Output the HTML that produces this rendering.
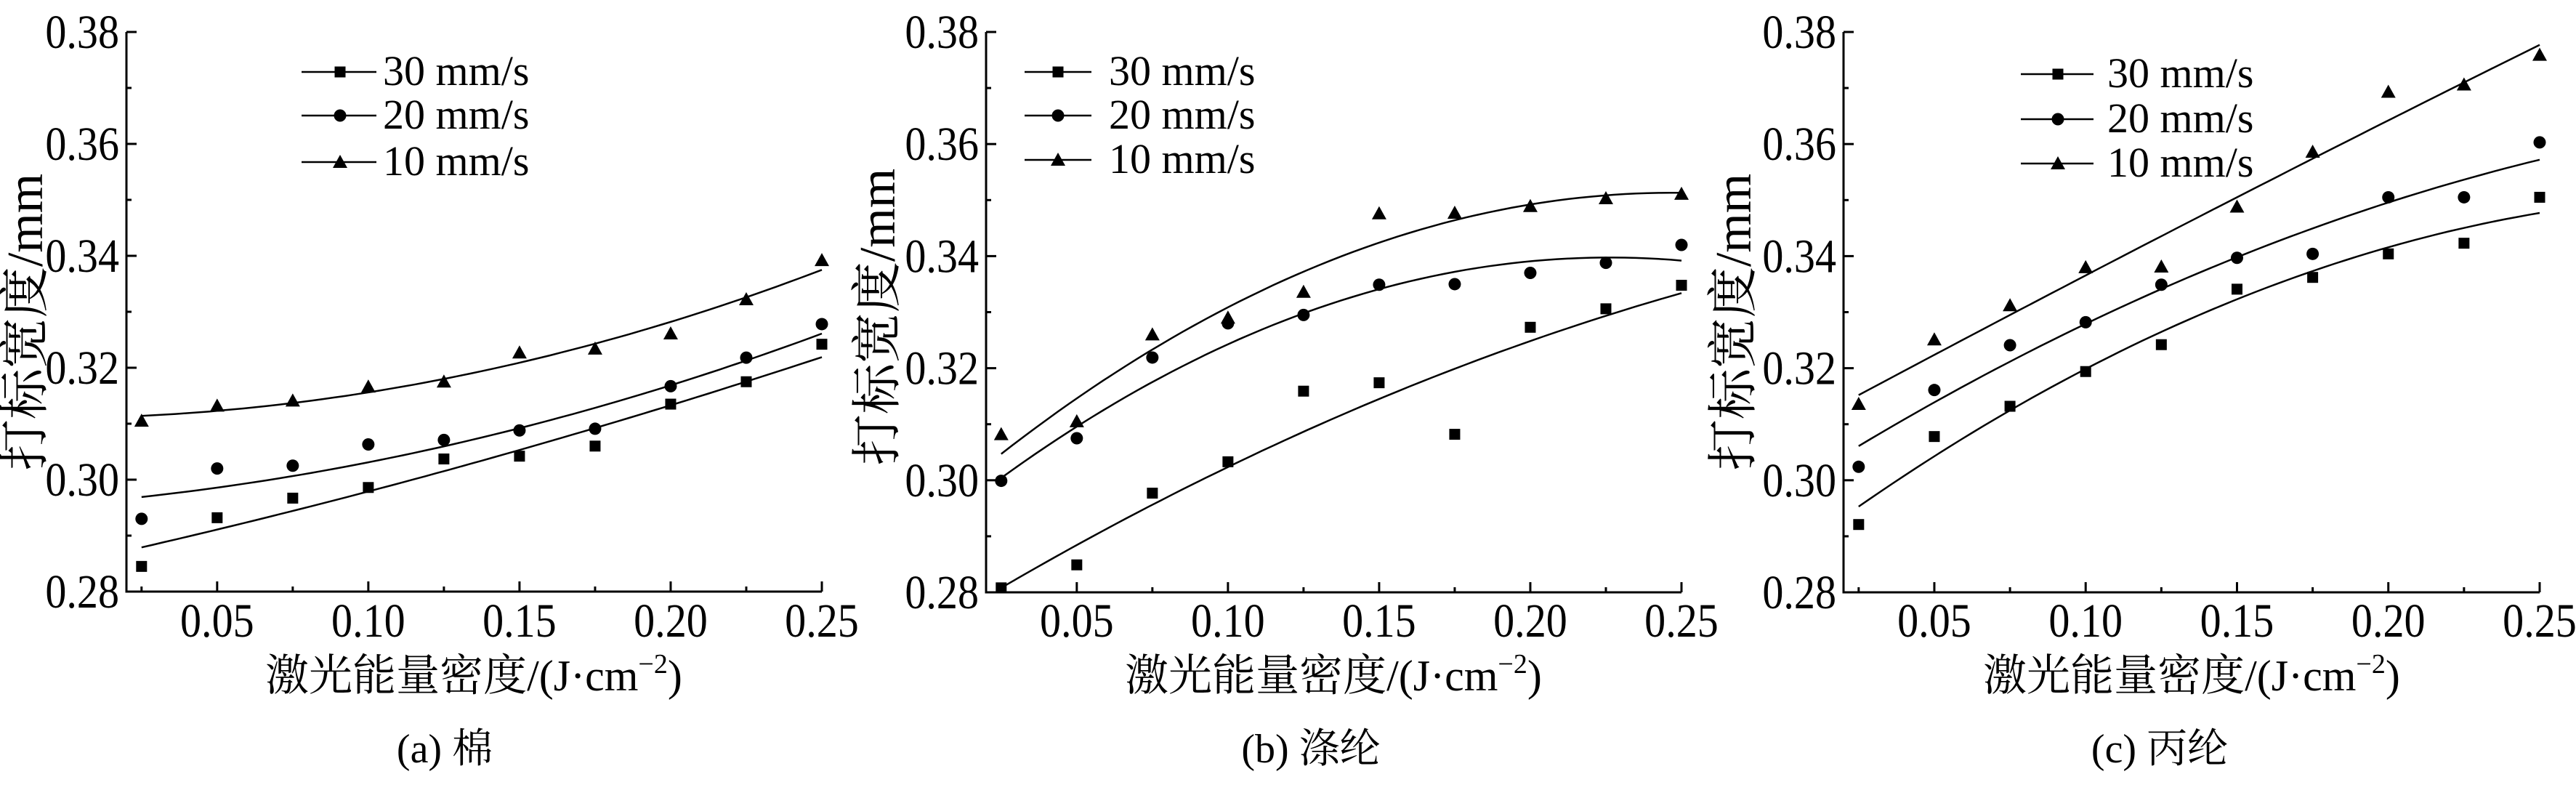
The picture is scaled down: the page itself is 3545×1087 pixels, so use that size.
<!DOCTYPE html>
<html><head><meta charset="utf-8"><style>
html,body{margin:0;padding:0;background:#fff;}
svg{display:block;}
text{font-family:"Liberation Serif","Noto Serif CJK SC","Noto Sans CJK SC",serif;fill:#000;}
</style></head><body>
<svg id="s" width="3545" height="1087" xmlns="http://www.w3.org/2000/svg"></svg>
<script>
const S=document.getElementById('s');let h='';
const X=[.025,.05,.075,.1,.125,.15,.175,.2,.225,.25];
function quad(p){const [a,b,c]=p;return x=>{const l0=(x-b[0])*(x-c[0])/((a[0]-b[0])*(a[0]-c[0])),l1=(x-a[0])*(x-c[0])/((b[0]-a[0])*(b[0]-c[0])),l2=(x-a[0])*(x-b[0])/((c[0]-a[0])*(c[0]-b[0]));return a[1]*l0+b[1]*l1+c[1]*l2;};}
function mk(t,x,y){if(t==0)return `<rect x="${x-7.5}" y="${y-7.5}" width="15" height="15"/>`;if(t==1)return `<circle cx="${x}" cy="${y}" r="8.5"/>`;return `<polygon points="${x},${y-10} ${x-10},${y+8} ${x+10},${y+8}"/>`;}
const P=[
{L:174,R:1131,T:44,B:814,leg:[415,468,518,527,[99,159,223]],yl:[31,443],xt:652,cap:612,c:'(a) 棉',
 d:[[.2845,.2932,.2967,.2986,.3037,.3042,.3060,.3135,.3175,.3242],[.2930,.3020,.3025,.3063,.3071,.3088,.3091,.3167,.3218,.3278],[.3105,.3132,.3141,.3166,.3175,.3227,.3234,.3261,.3322,.3392]],
 f:[[[.025,.2879],[.15,.3053],[.25,.3219]],[[.025,.2969],[.15,.3092],[.25,.3261]],[[.025,.3114],[.15,.3209],[.25,.3375]]]},
{L:1357,R:2314,T:44,B:815,leg:[1410,1456,1502,1526,[99,159,220]],yl:[1204,436],xt:1835,cap:1804,c:'(b) 涤纶',
 d:[[.2808,.2849,.2977,.3033,.3159,.3174,.3082,.3273,.3306,.3348],[.2999,.3075,.3219,.3280,.3295,.3349,.3350,.3370,.3388,.3420],[.3082,.3105,.3260,.3290,.3336,.3476,.3477,.3489,.3503,.3511]],
 f:[[[.025,.2808],[.15,.3145],[.25,.3334]],[[.025,.3004],[.15,.3341],[.25,.3392]],[[.025,.3047],[.15,.3424],[.25,.3513]]]},
{L:2537,R:3495,T:44,B:815,leg:[2781,2832,2881,2900,[102,164,225]],yl:[2382,443],xt:3016,cap:2972,c:'(c) 丙纶',
 d:[[.2921,.3078,.3132,.3194,.3242,.3341,.3362,.3404,.3423,.3505],[.3024,.3161,.3241,.3282,.3349,.3397,.3404,.3505,.3505,.3603],[.3136,.3251,.3312,.3380,.3381,.3488,.3586,.3693,.3706,.3759]],
 f:[[[.025,.2953],[.15,.3323],[.25,.3477]],[[.025,.3061],[.15,.3398],[.25,.3572]],[[.025,.3152],[.15,.3505],[.25,.3777]]]}
];
for(const p of P){
 const sx=x=>p.L+(x-.02)/(.23)*(p.R-p.L), sy=y=>p.B-(y-.28)/.1*(p.B-p.T);
 h+=`<path d="M${p.L},${p.T}V${p.B}H${p.R}" fill="none" stroke="#000" stroke-width="3"/>`;
 for(let i=0;i<=10;i++){const v=.28+i*.01,y=sy(v),maj=i%2==0;h+=`<line x1="${p.L}" x2="${p.L+(maj?14:7)}" y1="${y}" y2="${y}" stroke="#000" stroke-width="3"/>`;
  if(maj)h+=`<text transform="translate(${p.L-10},${y+22}) scale(0.88,1)" font-size="66" text-anchor="end">${v.toFixed(2)}</text>`;}
 for(const x of X){const xx=sx(x),maj=Math.round(x*1000)%50==0;h+=`<line x1="${xx}" x2="${xx}" y1="${p.B}" y2="${p.B-(maj?14:7)}" stroke="#000" stroke-width="3"/>`;
  if(maj)h+=`<text transform="translate(${xx},876) scale(0.88,1)" font-size="66" text-anchor="middle">${x.toFixed(2)}</text>`;}
 for(let s=0;s<3;s++){const f=quad(p.f[s]);let d='';for(let k=0;k<=60;k++){const x=.025+k*.225/60;d+=(k?'L':'M')+sx(x).toFixed(1)+','+sy(f(x)).toFixed(1);}
  h+=`<path d="${d}" fill="none" stroke="#000" stroke-width="2.5"/>`;
  p.d[s].forEach((v,i)=>h+=mk(s,sx(X[i]),sy(v)));
  const [a,m,b,t,ys]=p.leg;const y=ys[s];
  h+=`<line x1="${a}" x2="${b}" y1="${y}" y2="${y}" stroke="#000" stroke-width="2.5"/>`+mk(s,m,y)+`<text x="${t}" y="${y+18}" font-size="58">${['30','20','10'][s]} mm/s</text>`;}
 h+=`<text transform="translate(${p.yl[0]+27},${p.yl[1]}) rotate(-90)" font-size="70" text-anchor="middle">打标宽度/mm</text>`;
 h+=`<text x="${p.xt}" y="950" font-size="60" text-anchor="middle">激光能量密度/(J·cm<tspan font-size="38" dy="-24">−2</tspan><tspan dy="24">)</tspan></text>`;
 h+=`<text x="${p.cap}" y="1049" font-size="56" text-anchor="middle">${p.c}</text>`;
}
S.innerHTML=h;
</script>
</body></html>
